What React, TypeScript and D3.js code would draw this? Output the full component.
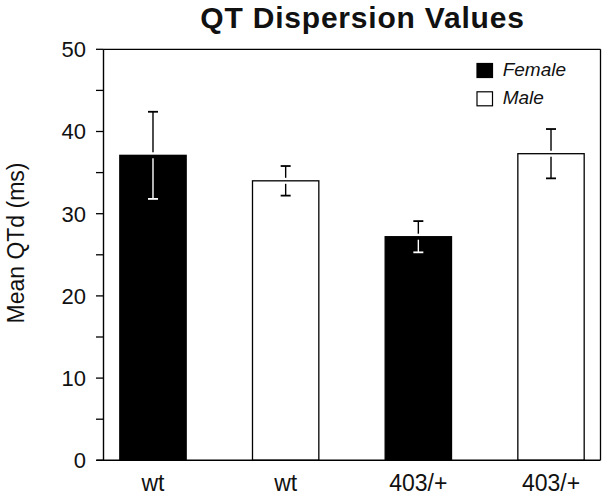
import React from "react";
import * as d3 from "d3";

const categories = ["wt", "wt", "403/+", "403/+"];
const sexes = ["Female", "Male", "Female", "Male"];
const means = [37.1, 34.0, 27.2, 37.3];
const errors = [5.3, 1.8, 1.9, 3.0];
const legendItems = ["Female", "Male"];
const yTicks = [0, 5, 10, 15, 20, 25, 30, 35, 40, 45, 50];
const yLabels = [0, 10, 20, 30, 40, 50];

const W = 606;
const H = 495;
const left = 103.5;
const right = 600.5;
const top = 49.3;
const bottom = 460.3;
const FONT = "'Liberation Sans', Arial, Helvetica, sans-serif";

export default function App() {
  const y = d3.scaleLinear().domain([0, 50]).range([bottom, top]);
  const x = d3
    .scaleBand<number>()
    .domain(d3.range(categories.length))
    .range([left, right])
    .paddingInner(0.5)
    .paddingOuter(0.123);
  const fillFor = (s: string) => (s === "Female" ? "#000" : "#fff");
  const contrastFor = (s: string) => (s === "Female" ? "#fff" : "#000");
  const capW = 10;
  const gap = 3;

  return (
    <svg
      width={W}
      height={H}
      style={{ position: "absolute", left: 0, top: 0, background: "#fff" }}
      fontFamily={FONT}
    >
      <rect x={0} y={0} width={W} height={H} fill="#fff" />
      <text x={362.5} y={28} textAnchor="middle" fontSize={30} fontWeight="bold" letterSpacing={0.8} fill="#111">
        QT Dispersion Values
      </text>

      {/* bars */}
      {means.map((m, i) => {
        const bx = x(i)!;
        const bw = x.bandwidth();
        return (
          <rect
            key={"b" + i}
            x={bx}
            y={y(m)}
            width={bw}
            height={bottom - y(m)}
            fill={fillFor(sexes[i])}
            stroke="#000"
            strokeWidth={1.3}
          />
        );
      })}

      {/* error bars */}
      {means.map((m, i) => {
        const cx = x(i)! + x.bandwidth() / 2;
        const yt = y(m + errors[i]);
        const yb = y(m - errors[i]);
        const yBar = y(m);
        const inner = contrastFor(sexes[i]);
        return (
          <g key={"e" + i} strokeWidth={1.4}>
            <line x1={cx} x2={cx} y1={yt} y2={yBar - gap} stroke="#000" />
            <line x1={cx - capW / 2} x2={cx + capW / 2} y1={yt} y2={yt} stroke="#000" strokeWidth={1.8} />
            <line x1={cx} x2={cx} y1={yBar + gap} y2={yb} stroke={inner} />
            <line x1={cx - capW / 2} x2={cx + capW / 2} y1={yb} y2={yb} stroke={inner} strokeWidth={1.8} />
          </g>
        );
      })}

      {/* frame */}
      <line x1={left} x2={right} y1={top} y2={top} stroke="#000" strokeWidth={1.3} />
      <line x1={right} x2={right} y1={top} y2={bottom} stroke="#000" strokeWidth={1.3} />
      <line x1={left} x2={left} y1={top} y2={bottom} stroke="#000" strokeWidth={1.4} />
      <line x1={left - 7} x2={right} y1={bottom} y2={bottom} stroke="#000" strokeWidth={1.4} />

      {/* y ticks */}
      {yTicks.map((t) => (
        <line key={"t" + t} x1={left - 7.5} x2={left} y1={y(t)} y2={y(t)} stroke="#000" strokeWidth={1.3} />
      ))}
      {yLabels.map((t) => (
        <text key={"l" + t} x={86} y={y(t)} dy="0.36em" textAnchor="end" fontSize={22} fill="#111">
          {t}
        </text>
      ))}

      <text
        transform={`translate(23.5, 243) rotate(-90)`}
        textAnchor="middle"
        fontSize={23}
        fill="#111"
      >
        Mean QTd (ms)
      </text>

      {/* x labels */}
      {categories.map((c, i) => (
        <text
          key={"x" + i}
          x={x(i)! + x.bandwidth() / 2}
          y={491}
          textAnchor="middle"
          fontSize={23}
          fill="#111"
        >
          {c}
        </text>
      ))}

      {/* legend */}
      {legendItems.map((s, i) => (
        <g key={"lg" + i} transform={`translate(0, ${i * 28.3})`}>
          <rect x={477} y={63.5} width={15.5} height={14} fill={fillFor(s)} stroke="#000" strokeWidth={1.2} />
          <text x={502.7} y={76} fontSize={19} fontStyle="italic" fill="#111">
            {s}
          </text>
        </g>
      ))}
    </svg>
  );
}
